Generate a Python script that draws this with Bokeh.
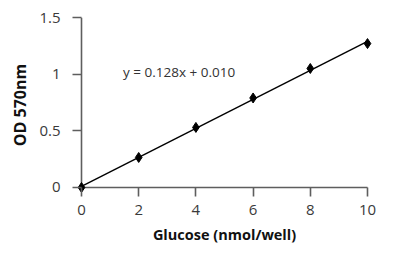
from bokeh.plotting import figure
from bokeh.models import Range1d, FixedTicker, Label
from bokeh.embed import file_html
from bokeh.resources import INLINE

glucose = [0, 2, 4, 6, 8, 10]
od570 = [0.0, 0.265, 0.53, 0.79, 1.05, 1.27]
slope = 0.128
intercept = 0.010
equation = "y = 0.128x + 0.010"
x_ticks = [0, 2, 4, 6, 8, 10]
y_ticks = [0, 0.5, 1, 1.5]
y_tick_labels = {0: "0", 0.5: "0.5", 1: "1", 1.5: "1.5"}

FONT = "Open Sans"
AXIS_COLOR = "#5e5e5e"
TEXT_COLOR = "#3a3a3a"

# small padding so markers at the range ends are not clipped; axis lines drawn at 0
PX_X = 28.6   # pixels per x unit
PX_Y = 113.3  # pixels per y unit
PAD = 5       # pixels
xpad = PAD / PX_X
ypad = PAD / PX_Y

p = figure(width=400, height=267, output_backend="svg", toolbar_location=None,
           x_range=Range1d(min(x_ticks) - xpad, max(x_ticks) + xpad),
           y_range=Range1d(min(y_ticks) - ypad, max(y_ticks)),
           min_border_left=76, min_border_right=28, min_border_top=17, min_border_bottom=75)
p.outline_line_color = None
p.grid.visible = False
p.background_fill_color = "white"
p.border_fill_color = "white"

# axis lines at the data origin
p.segment(x0=[min(x_ticks), min(x_ticks)], y0=[min(y_ticks), min(y_ticks)],
          x1=[max(x_ticks), min(x_ticks)], y1=[min(y_ticks), max(y_ticks)],
          line_color=AXIS_COLOR, line_width=1.6)

fit_x = [min(glucose), max(glucose)]
fit_y = [slope * v + intercept for v in fit_x]
p.line(fit_x, fit_y, line_color="black", line_width=1.4)
p.scatter(glucose, od570, marker="diamond", size=10, fill_color="black", line_color="black")

p.add_layout(Label(x=1.45, y=1.015, text=equation, text_font=FONT, text_font_size="13.5px",
                   text_color="#333333", text_baseline="middle"))

for ax in (p.xaxis[0], p.yaxis[0]):
    ax.axis_line_color = None
    ax.major_tick_line_color = AXIS_COLOR
    ax.major_tick_line_width = 1.6
    ax.major_tick_out = 4
    ax.major_tick_in = PAD
    ax.minor_tick_line_color = None
    ax.major_label_text_font = FONT
    ax.major_label_text_font_size = "15px"
    ax.major_label_text_color = TEXT_COLOR
    ax.axis_label_text_font = FONT
    ax.axis_label_text_font_style = "bold"
    ax.axis_label_text_color = "#111111"

p.xaxis.ticker = FixedTicker(ticks=x_ticks)
p.yaxis.ticker = FixedTicker(ticks=y_ticks)
p.yaxis.major_label_overrides = y_tick_labels
p.xaxis.major_label_standoff = 8
p.yaxis.major_label_standoff = 12
p.xaxis.axis_label = "Glucose (nmol/well)"
p.yaxis.axis_label = "OD 570nm"
p.xaxis.axis_label_text_font_size = "14.5px"
p.yaxis.axis_label_text_font_size = "16px"
p.xaxis.axis_label_standoff = 7
p.yaxis.axis_label_standoff = 5

open("out.html", "w").write(file_html(p, INLINE))
